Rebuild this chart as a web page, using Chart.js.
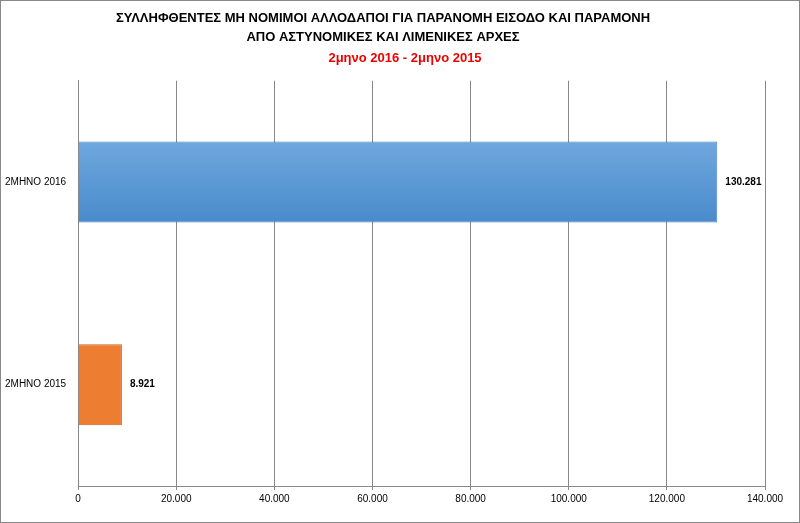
<!DOCTYPE html>
<html><head><meta charset="utf-8">
<script src="https://cdn.jsdelivr.net/npm/chart.js"></script>
<style>body{margin:0;background:#fff}#w{width:798px;height:521px;border:1px solid #888;position:relative}</style>
</head><body><div id="w"><canvas id="c" width="798" height="521"></canvas></div>
<script>
const categories=["2ΜΗΝΟ 2016","2ΜΗΝΟ 2015"];
const values=[130281,8921];
const colors=["#5b9bd5","#ed7d31"];
const ticks=[0,20000,40000,60000,80000,100000,120000,140000];
const fmt=v=>v.toLocaleString('de-DE');
const labelPlugin={id:'lbl',afterDatasetsDraw(ch){const c=ch.ctx;const m=ch.getDatasetMeta(0);c.save();c.font='bold 10px Arial, "Liberation Sans"';c.fillStyle='#000';c.textBaseline='middle';m.data.forEach((b,i)=>{c.fillText(fmt(values[i]),b.x+8,b.y);});c.restore();}};
const ctx=document.getElementById('c').getContext('2d');
const g=ctx.createLinearGradient(0,139,0,221);g.addColorStop(0,'#6fa8de');g.addColorStop(1,'#4a8bcc');
new Chart(ctx,{type:'bar',data:{labels:categories,datasets:[{data:values,backgroundColor:[g,colors[1]],borderColor:['#4a7ebb','#c8651f'],borderWidth:1,barPercentage:0.4,categoryPercentage:1}]},
options:{indexAxis:'y',responsive:false,animation:false,layout:{padding:{left:0,right:34,top:0,bottom:14}},
plugins:{legend:{display:false},tooltip:{enabled:false},title:{display:true,text:['ΣΥΛΛΗΦΘΕΝΤΕΣ ΜΗ ΝΟΜΙΜΟΙ ΑΛΛΟΔΑΠΟΙ ΓΙΑ ΠΑΡΑΝΟΜΗ ΕΙΣΟΔΟ ΚΑΙ ΠΑΡΑΜΟΝΗ','ΑΠΟ ΑΣΤΥΝΟΜΙΚΕΣ ΚΑΙ ΛΙΜΕΝΙΚΕΣ ΑΡΧΕΣ'],color:'#000',font:{size:13,weight:'bold',family:'Arial, "Liberation Sans"',lineHeight:1.45},padding:{top:8,bottom:34}},
subtitle:{display:false}},
scales:{x:{min:0,max:140000,afterBuildTicks(a){a.ticks=ticks.map(v=>({value:v}));},ticks:{callback:v=>fmt(v),color:'#000',font:{size:10,family:'Arial, "Liberation Sans"'},maxRotation:0},grid:{color:'#888',drawTicks:true,tickLength:4},border:{color:'#888'}},
y:{ticks:{color:'#000',font:{size:10,family:'Arial, "Liberation Sans"'},padding:4},grid:{display:false},border:{color:'#888'}}}},
plugins:[labelPlugin,{id:'sub',afterDraw(ch){const c=ch.ctx;c.save();c.font='bold 13px Arial, "Liberation Sans"';c.fillStyle='#e00';c.textAlign='center';c.fillText('2μηνο 2016 - 2μηνο 2015',(ch.width)/2+5,61);c.restore();}}]});
</script></body></html>
